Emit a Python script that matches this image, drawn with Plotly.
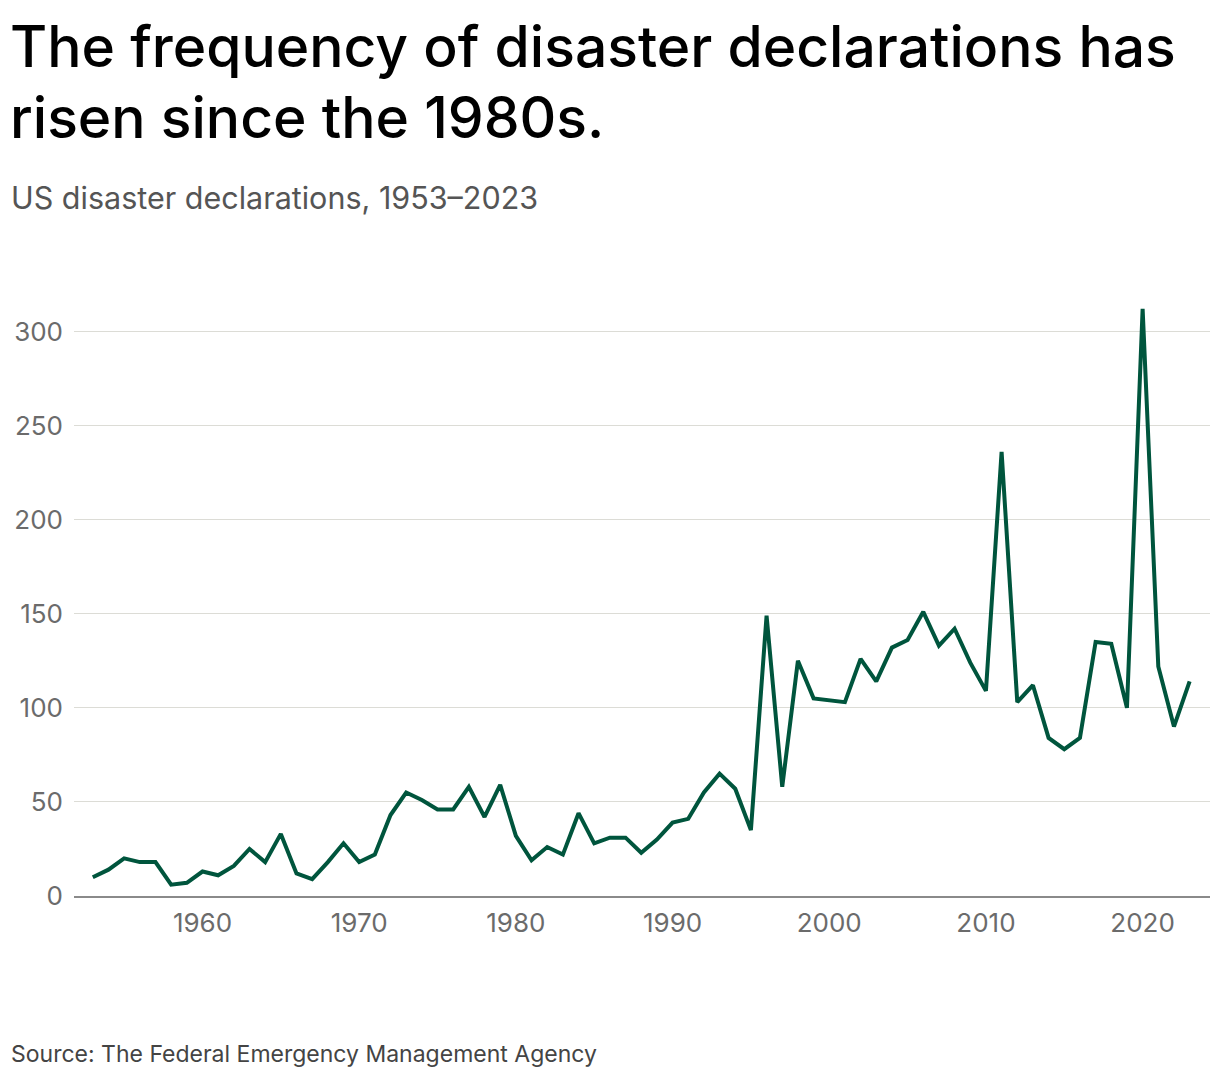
import plotly.graph_objects as go

years = list(range(1953, 2024))
declarations = [
    10, 14, 20, 18, 18, 6, 7,            # 1953-1959
    13, 11, 16, 25, 18, 33, 12, 9, 18, 28,  # 1960-1969
    18, 22, 43, 55, 51, 46, 46, 58, 42, 59,  # 1970-1979
    32, 19, 26, 22, 44, 28, 31, 31, 23, 30,  # 1980-1989
    39, 41, 55, 65, 57, 35, 149, 58, 125, 105,  # 1990-1999
    104, 103, 126, 114, 132, 136, 151, 133, 142, 124,  # 2000-2009
    109, 236, 103, 112, 84, 78, 84, 135, 134, 100,  # 2010-2019
    312, 122, 90, 114,  # 2020-2023
]
x_ticks = [1960, 1970, 1980, 1990, 2000, 2010, 2020]
y_ticks = [0, 50, 100, 150, 200, 250, 300]

title_line1 = "The frequency of disaster declarations has"
title_line2 = "risen since the 1980s."
subtitle = "US disaster declarations, 1953–2023"
source = "Source: The Federal Emergency Management Agency"

FONT = "Inter"
W, H = 1220, 1082
ML, MR, MT, MB = 74, 10, 290, 186
PW = W - ML - MR
PH = H - MT - MB

def px(xpix):
    return (xpix - ML) / PW

def py(ypix):
    return (H - MB - ypix) / PH

fig = go.Figure()
fig.add_trace(go.Scatter(
    x=years, y=declarations, mode="lines",
    line=dict(color="#00553d", width=4),
    hoverinfo="x+y", showlegend=False,
))

fig.update_layout(
    width=W, height=H,
    margin=dict(l=ML, r=MR, t=MT, b=MB),
    paper_bgcolor="white", plot_bgcolor="white",
    font=dict(family=FONT),
    xaxis=dict(
        range=[1951.8, 2024.3], tickvals=x_ticks,
        showgrid=False, zeroline=False,
        showline=True, linecolor="#8a8a8a", linewidth=2,
        ticks="", tickfont=dict(size=26, color="#6b6b6b", family=FONT),
        ticklabelstandoff=3,
    ),
    yaxis=dict(
        range=[0, 322], tickvals=y_ticks,
        showgrid=True, gridcolor="#dcdcd6", gridwidth=1,
        zeroline=False, showline=False, ticks="",
        tickfont=dict(size=26, color="#6b6b6b", family=FONT),
        ticklabelstandoff=10,
    ),
    annotations=[
        dict(text=title_line1, xref="paper", yref="paper", x=px(8), y=py(46),
             xanchor="left", yanchor="middle", showarrow=False,
             font=dict(size=57, color="#000000", family=FONT, weight=500)),
        dict(text=title_line2, xref="paper", yref="paper", x=px(8), y=py(118),
             xanchor="left", yanchor="middle", showarrow=False,
             font=dict(size=57, color="#000000", family=FONT, weight=500)),
        dict(text=subtitle, xref="paper", yref="paper", x=px(9), y=py(197),
             xanchor="left", yanchor="middle", showarrow=False,
             font=dict(size=30.5, color="#555555", family=FONT)),
        dict(text=source, xref="paper", yref="paper", x=px(9), y=py(1054),
             xanchor="left", yanchor="middle", showarrow=False,
             font=dict(size=23, color="#444444", family=FONT)),
    ],
)

fig.write_html("out.html")
